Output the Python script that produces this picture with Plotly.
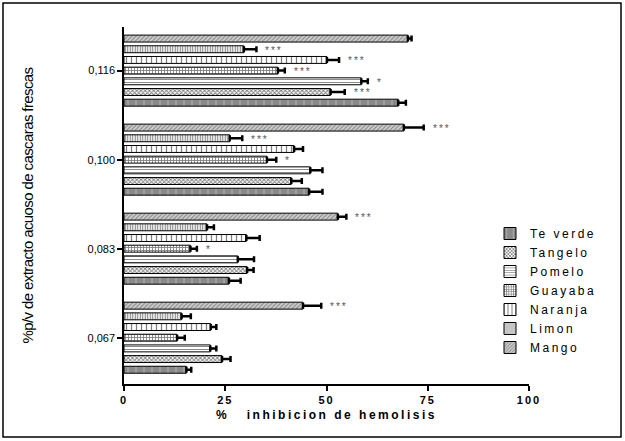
import plotly.graph_objects as go

categories = ["0,067", "0,083", "0,100", "0,116"]
series_names = ["Te verde", "Tangelo", "Pomelo", "Guayaba", "Naranja", "Limon", "Mango"]

te_verde = [15.4, 25.9, 45.7, 67.7]
tangelo = [24.2, 30.4, 41.3, 51.0]
pomelo = [21.3, 28.1, 46.0, 58.6]
guayaba = [13.1, 16.4, 35.3, 38.0]
naranja = [21.4, 30.2, 42.0, 50.1]
limon = [14.2, 20.5, 26.1, 29.6]
mango = [44.2, 52.8, 69.1, 70.1]

te_verde_err = [1.2, 2.9, 3.3, 1.9]
tangelo_err = [2.1, 1.6, 2.6, 3.5]
pomelo_err = [1.5, 4.0, 3.0, 1.6]
guayaba_err = [1.9, 1.6, 2.3, 1.7]
naranja_err = [1.4, 3.3, 2.2, 3.0]
limon_err = [2.3, 1.7, 3.1, 3.1]
mango_err = [4.5, 2.1, 4.9, 0.9]

te_verde_sig = ["", "", "", ""]
tangelo_sig = ["", "", "", "***"]
pomelo_sig = ["", "", "", "*"]
guayaba_sig = ["", "*", "*", "***"]
naranja_sig = ["", "", "", "***"]
limon_sig = ["", "", "***", "***"]
mango_sig = ["***", "***", "***", ""]

x_ticks = [0, 25, 50, 75, 100]

values = [te_verde, tangelo, pomelo, guayaba, naranja, limon, mango]
errors = [te_verde_err, tangelo_err, pomelo_err, guayaba_err, naranja_err, limon_err, mango_err]
sigs = [te_verde_sig, tangelo_sig, pomelo_sig, guayaba_sig, naranja_sig, limon_sig, mango_sig]

patterns = [
    dict(shape="|", fgcolor="#e0e0e0", bgcolor="#8a8a8a", size=8, solidity=0.12),
    dict(shape="x", fgcolor="#000000", bgcolor="#ffffff", size=3, solidity=0.55),
    dict(shape="-", fgcolor="#000000", bgcolor="#ffffff", size=3, solidity=0.3),
    dict(shape="+", fgcolor="#000000", bgcolor="#ffffff", size=3, solidity=0.5),
    dict(shape="|", fgcolor="#000000", bgcolor="#ffffff", size=5, solidity=0.25),
    dict(shape="|", fgcolor="#000000", bgcolor="#ffffff", size=2.5, solidity=0.45),
    dict(shape="/", fgcolor="#4a4a4a", bgcolor="#cfcfcf", size=3, solidity=0.4),
]

FONT = "Liberation Sans, Arial, sans-serif"

fig = go.Figure()
for name, v, e, p in zip(series_names, values, errors, patterns):
    fig.add_trace(go.Bar(
        y=categories, x=v, orientation="h",
        name=f'<span style="letter-spacing:2.5px">{name}</span>',
        marker=dict(color=p["bgcolor"], line=dict(color="black", width=1), pattern=p),
        error_x=dict(type="data", array=e, arrayminus=[0] * len(e), symmetric=False,
                     color="black", thickness=2.5, width=3),
    ))

bargap = 0.16
n = len(series_names)
slot = (1 - bargap) / n
for i, s in enumerate(sigs):
    off = -(1 - bargap) / 2 + (i + 0.5) * slot
    for j, txt in enumerate(s):
        if txt:
            fig.add_annotation(
                x=values[i][j] + errors[i][j], y=j + off, xref="x", yref="y",
                text=f'<span style="letter-spacing:2px">{txt}</span>',
                showarrow=False, xanchor="left", yanchor="middle", xshift=7, yshift=-1,
                font=dict(family=FONT, size=10, color="#555555"),
            )

L, R, T, B = 124, 96, 27, 57
W, H = 625, 441
pw, ph = W - L - R, H - T - B

def px(x):
    return (x - L) / pw

def py(y):
    return (H - B - y) / ph

fig.add_shape(type="rect", xref="paper", yref="paper",
              x0=px(3), x1=px(621), y0=py(437), y1=py(3),
              line=dict(color="black", width=1.5), fillcolor="rgba(0,0,0,0)")

fig.update_layout(
    width=W, height=H,
    margin=dict(l=L, r=R, t=T, b=B, pad=0),
    barmode="group", bargap=bargap, bargroupgap=0.35,
    plot_bgcolor="white", paper_bgcolor="white",
    font=dict(family=FONT, size=11, color="black"),
    showlegend=True,
    legend=dict(x=px(490), y=py(219), xanchor="left", yanchor="top",
                font=dict(family=FONT, size=12, color="black"),
                bgcolor="rgba(0,0,0,0)", itemwidth=30, tracegroupgap=0),
    xaxis=dict(range=[0, 100], tickvals=x_ticks,
               ticktext=[f'<span style="letter-spacing:2px"><b>{t}</b></span>' for t in x_ticks],
               showline=True, linecolor="black", linewidth=1.5,
               ticks="outside", ticklen=5, tickwidth=1.5, tickcolor="black",
               showgrid=False, zeroline=False,
               tickfont=dict(family=FONT, size=11, color="black"),
               title=dict(text='<span style="letter-spacing:2.5px"><b>%   inhibicion de hemolisis</b></span>',
                          font=dict(family=FONT, size=12, color="black"), standoff=6)),
    yaxis=dict(type="category", categoryorder="array", categoryarray=categories,
               range=[-0.52, 3.49],
               showline=True, linecolor="black", linewidth=1.5,
               ticks="outside", ticklen=5, tickwidth=1.5, tickcolor="black",
               showgrid=False, zeroline=False,
               tickfont=dict(family=FONT, size=11, color="black"),
               title=dict(text='<span style="letter-spacing:-0.6px">%p/v de extracto acuoso de cascaras frescas</span>',
                          font=dict(family=FONT, size=15, color="black"), standoff=50)),
)

fig.write_html("out.html", config={"displayModeBar": False},
               post_script="document.body.style.margin='0';document.body.style.padding='0';")
